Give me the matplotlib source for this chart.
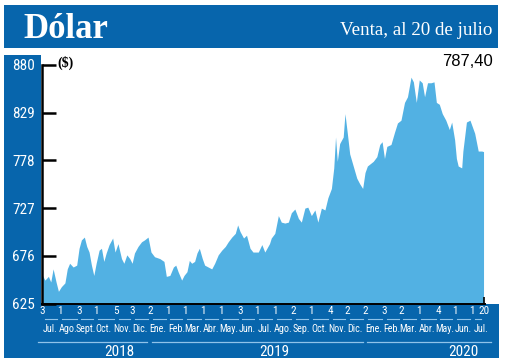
import matplotlib
matplotlib.use("Agg")
import matplotlib.pyplot as plt
import matplotlib.font_manager as fm
import matplotlib.transforms as mtrans
import matplotlib.dates as mdates
from matplotlib.patches import Rectangle
from matplotlib.lines import Line2D
import pandas as pd

# ---------------- data ----------------
dates = [
    "2018-07-03", "2018-07-07", "2018-07-13", "2018-07-17", "2018-07-21", "2018-07-26",
    "2018-07-30", "2018-08-04", "2018-08-10", "2018-08-14", "2018-08-18", "2018-08-24",
    "2018-08-30", "2018-09-03", "2018-09-07", "2018-09-12", "2018-09-16", "2018-09-20",
    "2018-09-24", "2018-09-28", "2018-10-02", "2018-10-07", "2018-10-11", "2018-10-15",
    "2018-10-19", "2018-10-24", "2018-10-30", "2018-11-03", "2018-11-08", "2018-11-14",
    "2018-11-18", "2018-11-23", "2018-11-28", "2018-12-02", "2018-12-06", "2018-12-12",
    "2018-12-18", "2018-12-23", "2018-12-29", "2019-01-03", "2019-01-09", "2019-01-18",
    "2019-01-25", "2019-01-29", "2019-02-04", "2019-02-10", "2019-02-14", "2019-02-18",
    "2019-02-24", "2019-02-28", "2019-03-05", "2019-03-09", "2019-03-13", "2019-03-18",
    "2019-03-22", "2019-03-26", "2019-03-31", "2019-04-04", "2019-04-10", "2019-04-16",
    "2019-04-21", "2019-04-27", "2019-05-03", "2019-05-09", "2019-05-14", "2019-05-20",
    "2019-05-26", "2019-05-30", "2019-06-03", "2019-06-09", "2019-06-14", "2019-06-20",
    "2019-06-25", "2019-07-04", "2019-07-10", "2019-07-15", "2019-07-23", "2019-07-26",
    "2019-08-01", "2019-08-07", "2019-08-12", "2019-08-18", "2019-08-24", "2019-08-29",
    "2019-09-04", "2019-09-10", "2019-09-15", "2019-09-21", "2019-09-26", "2019-10-02",
    "2019-10-08", "2019-10-13", "2019-10-19", "2019-10-25", "2019-10-30", "2019-11-05",
    "2019-11-09", "2019-11-12", "2019-11-15", "2019-11-19", "2019-11-25", "2019-11-28",
    "2019-12-02", "2019-12-06", "2019-12-12", "2019-12-18", "2019-12-23", "2019-12-28",
    "2020-01-01", "2020-01-05", "2020-01-09", "2020-01-15", "2020-01-21", "2020-01-26",
    "2020-01-30", "2020-02-03", "2020-02-07", "2020-02-14", "2020-02-20", "2020-02-25",
    "2020-03-02", "2020-03-08", "2020-03-13", "2020-03-19", "2020-03-23", "2020-03-28",
    "2020-04-02", "2020-04-07", "2020-04-11", "2020-04-16", "2020-04-22", "2020-04-27",
    "2020-05-01", "2020-05-06", "2020-05-11", "2020-05-17", "2020-05-23", "2020-05-27",
    "2020-06-01", "2020-06-04", "2020-06-07", "2020-06-13", "2020-06-15", "2020-06-21",
    "2020-06-27", "2020-07-01", "2020-07-05", "2020-07-11", "2020-07-17", "2020-07-20",
]
values = [
    655, 650, 654, 648, 662, 648,
    638, 643, 647, 662, 668, 664,
    666, 684, 693, 696, 686, 680,
    666, 655, 668, 682, 684, 670,
    679, 688, 695, 680, 689, 673,
    668, 677, 673, 668, 679, 686,
    691, 693, 696, 680, 675, 673,
    670, 654, 655, 664, 666, 659,
    650, 655, 659, 671, 668, 670,
    679, 684, 673, 666, 664, 662,
    668, 677, 682, 686, 691, 696,
    700, 709, 702, 695, 698, 684,
    680, 680, 688, 680, 689, 695,
    700, 719, 712, 711, 712, 722,
    726, 716, 712, 727, 728, 719,
    725, 712, 727, 725, 738, 748,
    770, 803, 777, 796, 803, 828,
    807, 785, 772, 759, 753, 748,
    765, 772, 774, 777, 782, 795,
    798, 780, 793, 795, 808, 818,
    821, 840, 846, 867, 862, 840,
    864, 861, 846, 861, 861, 862,
    840, 838, 828, 821, 811, 819,
    800, 780, 772, 770, 788, 819,
    821, 814, 807, 788, 788, 787.4,
]
y_ticks = [625, 676, 727, 778, 829, 880]
day_tick_dates = [
    "2018-07-03", "2018-08-01", "2018-09-03", "2018-10-01", "2018-11-05", "2018-12-03",
    "2019-01-02", "2019-02-01", "2019-03-01", "2019-04-01", "2019-05-01", "2019-06-03",
    "2019-07-01", "2019-08-01", "2019-09-02", "2019-10-01", "2019-11-04", "2019-12-02",
    "2020-01-02", "2020-02-03", "2020-03-02", "2020-04-01", "2020-05-04", "2020-06-01",
    "2020-07-01", "2020-07-20",
]
month_labels = ["Jul.", "Ago.", "Sept.", "Oct.", "Nov.", "Dic.",
                "Ene.", "Feb.", "Mar.", "Abr.", "May.", "Jun.", "Jul.", "Ago.", "Sep.",
                "Oct.", "Nov.", "Dic.",
                "Ene.", "Feb.", "Mar.", "Abr.", "May.", "Jun.", "Jul."]
years = ["2018", "2019", "2020"]
year_label_dates = ["2018-11-10", "2019-08-01", "2020-06-15"]
title = "Dólar"
subtitle = "Venta, al 20 de julio"
unit = "($)"
last_value = "787,40"

# ---------------- fonts ----------------
names = {f.name for f in fm.fontManager.ttflist}
def pick(*cands):
    for c in cands:
        if c in names:
            return c
    return "DejaVu Sans"
NARROW = pick("Liberation Sans Narrow", "Roboto Condensed", "DejaVu Sans")
SERIF = pick("Liberation Serif", "DejaVu Serif")
SANS = pick("Liberation Sans", "DejaVu Sans")

# ---------------- figure ----------------
W, H = 520, 364
fig = plt.figure(figsize=(W / 100, H / 100), dpi=100)
fig.patch.set_facecolor("white")
BLUE = "#0765ac"
FILL = "#52b1e3"
LINE = "#8fc3ea"

def fx(px):
    return px / W

def fy(py):
    return 1 - py / H

def rect(x0, y0, x1, y1):
    fig.add_artist(Rectangle((fx(x0), fy(y1)), fx(x1 - x0), (y1 - y0) / H,
                             transform=fig.transFigure, color=BLUE, lw=0, zorder=-5))

rect(4, 5, 498, 48)      # header
rect(4, 55, 41, 358)     # left column
rect(4, 304, 499, 358)   # bottom band

ax = fig.add_axes([fx(42), fy(303.5), fx(443), (303.5 - 65) / H], zorder=1)
ax.set_facecolor("none")

d = pd.to_datetime(dates)
ax.fill_between(d, values, y_ticks[0], color=FILL, lw=0)

start = pd.Timestamp(dates[0]) - pd.Timedelta(days=0.85)
end = pd.Timestamp(dates[-1]) + pd.Timedelta(days=2.5)
ax.set_xlim(start, end)
ax.set_ylim(y_ticks[0], y_ticks[-1])

for s in ("top", "right"):
    ax.spines[s].set_visible(False)
ax.spines["left"].set_linewidth(1.8)
ax.spines["bottom"].set_linewidth(1.4)
ax.spines["left"].set_color("black")
ax.spines["bottom"].set_color("black")

ax.set_yticks(y_ticks)
ax.set_yticklabels([str(v) for v in y_ticks], family=NARROW)
ax.tick_params(axis="y", direction="in", length=10, width=1.8, color="black",
               labelcolor="white", labelsize=11, pad=5)
ax.set_xticks([pd.Timestamp(dates[-1])])
ax.tick_params(axis="x", direction="in", length=5, width=1.2, color="black",
               labelbottom=False)

# bottom band texts
trans = mtrans.blended_transform_factory(ax.transData, fig.transFigure)
def dn(t):
    return mdates.date2num(pd.Timestamp(t).to_pydatetime())

td = pd.to_datetime(day_tick_dates)
for t in td:
    ax.text(dn(t), fy(311), str(t.day), transform=trans, ha="center", va="center",
            color="white", fontsize=8, family=NARROW, clip_on=False)
for a, b in zip(td[:-1], td[1:]):
    fig.add_artist(Line2D([dn(a) + 4, dn(b) - 4], [fy(319), fy(319)],
                          transform=trans, color=LINE, lw=0.8))

month_starts = pd.date_range("2018-07-01", periods=len(month_labels), freq="MS")
for m, lab in zip(month_starts, month_labels):
    ax.text(dn(m) + 14, fy(329), lab, transform=trans, ha="center",
            va="center", color="white", fontsize=7.2, family=NARROW, clip_on=False)

line_lo = dn(start) - 6
line_hi = dn(end) + 10
for yr, yd in zip(years, year_label_dates):
    a = max(dn(f"{yr}-01-01") + 3, line_lo)
    b = min(dn(f"{yr}-12-31") - 3, line_hi)
    fig.add_artist(Line2D([a, b], [fy(342), fy(342)], transform=trans, color=LINE, lw=0.9))
    ax.text(dn(yd), fy(352), yr, transform=trans, ha="center", va="center",
            color="white", fontsize=11, family=NARROW, clip_on=False)

# header texts
fig.text(fx(23), fy(38), title, family=SERIF, weight="bold", fontsize=25,
         color="white", ha="left", va="baseline")
fig.text(fx(492), fy(35), subtitle, family=SERIF, fontsize=13.7,
         color="white", ha="right", va="baseline")
fig.text(fx(57), fy(63), unit.replace("$", r"\$"), family=SERIF, weight="bold",
         fontsize=10, color="black", ha="left", va="center")
fig.text(fx(493), fy(62), last_value, family=SANS, fontsize=12,
         color="black", ha="right", va="center")

fig.savefig("out.png", dpi=100)
